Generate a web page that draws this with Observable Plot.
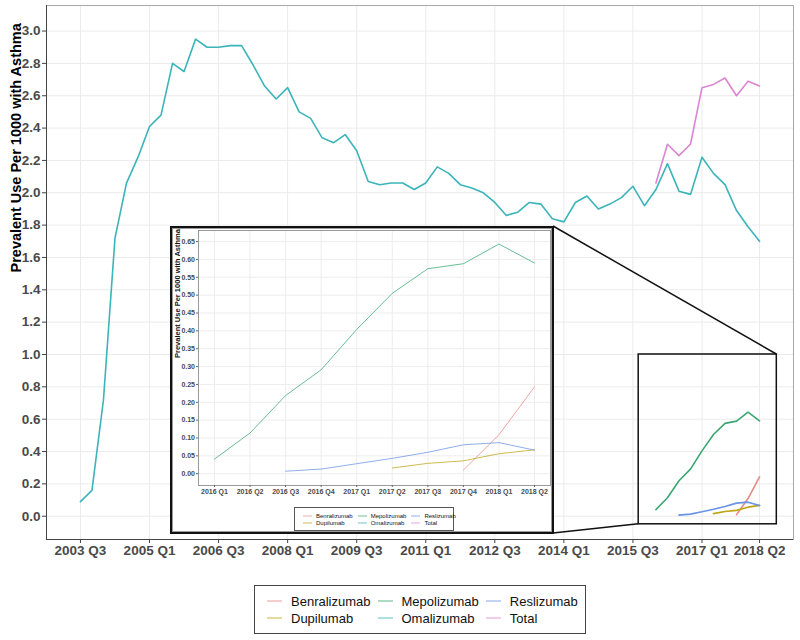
<!DOCTYPE html>
<html><head><meta charset="utf-8">
<script src="https://cdn.jsdelivr.net/npm/d3@7"></script>
<script src="https://cdn.jsdelivr.net/npm/@observablehq/plot@0.6"></script>
<style>
body{margin:0;background:#fff;font-family:"Liberation Sans",Arial,sans-serif;}
#wrap{position:relative;width:800px;height:640px;overflow:hidden;background:#fff;}
#wrap svg{display:block;}
.legend{position:absolute;box-sizing:border-box;background:#fff;display:grid;grid-auto-flow:column;grid-template-rows:auto auto;justify-content:start;align-content:center;}
.legend .it{display:flex;align-items:center;white-space:nowrap;color:#111;}
</style></head><body><div id="wrap"></div>
<script>
// ---------- data ----------
const quarters = ["2003 Q3","2003 Q4","2004 Q1","2004 Q2","2004 Q3","2004 Q4","2005 Q1","2005 Q2","2005 Q3","2005 Q4",
"2006 Q1","2006 Q2","2006 Q3","2006 Q4","2007 Q1","2007 Q2","2007 Q3","2007 Q4","2008 Q1","2008 Q2",
"2008 Q3","2008 Q4","2009 Q1","2009 Q2","2009 Q3","2009 Q4","2010 Q1","2010 Q2","2010 Q3","2010 Q4",
"2011 Q1","2011 Q2","2011 Q3","2011 Q4","2012 Q1","2012 Q2","2012 Q3","2012 Q4","2013 Q1","2013 Q2",
"2013 Q3","2013 Q4","2014 Q1","2014 Q2","2014 Q3","2014 Q4","2015 Q1","2015 Q2","2015 Q3","2015 Q4",
"2016 Q1","2016 Q2","2016 Q3","2016 Q4","2017 Q1","2017 Q2","2017 Q3","2017 Q4","2018 Q1","2018 Q2"];
const xTickLabels = ["2003 Q3","2005 Q1","2006 Q3","2008 Q1","2009 Q3","2011 Q1","2012 Q3","2014 Q1","2015 Q3","2017 Q1","2018 Q2"];
const yTicks = [0,0.2,0.4,0.6,0.8,1.0,1.2,1.4,1.6,1.8,2.0,2.2,2.4,2.6,2.8,3.0];

const omalizumab = [0.09,0.16,0.72,1.72,2.06,2.22,2.41,2.48,2.80,2.75,
2.95,2.90,2.90,2.91,2.91,2.79,2.66,2.58,2.65,2.50,
2.46,2.34,2.31,2.36,2.26,2.07,2.05,2.06,2.06,2.02,
2.06,2.16,2.12,2.05,2.03,2.00,1.94,1.86,1.88,1.94,
1.93,1.84,1.82,1.94,1.98,1.90,1.93,1.97,2.04,1.92,
2.02,2.18,2.01,1.99,2.22,2.12,2.05,1.89,1.79,1.70];

const insetQuarters = ["2016 Q1","2016 Q2","2016 Q3","2016 Q4","2017 Q1","2017 Q2","2017 Q3","2017 Q4","2018 Q1","2018 Q2"];
const total        = [2.06,2.30,2.23,2.30,2.65,2.67,2.71,2.60,2.69,2.66];
const mepolizumab  = [0.041,0.114,0.219,0.291,0.404,0.505,0.574,0.588,0.643,0.590];
const reslizumab   = [null,null,0.007,0.013,0.028,0.043,0.060,0.081,0.087,0.066];
const dupilumab    = [null,null,null,null,null,0.016,0.029,0.036,0.056,0.067];
const benralizumab = [null,null,null,null,null,null,null,0.010,0.109,0.243];
const insetYTicks = [0,0.05,0.1,0.15,0.2,0.25,0.3,0.35,0.4,0.45,0.5,0.55,0.6,0.65];

const seriesNames = ["Benralizumab","Dupilumab","Mepolizumab","Omalizumab","Reslizumab","Total"];
const seriesColors = ["#e68a82","#bfa415","#3aa772","#3bb4ba","#6a93e6","#da86d2"];
const yTitle = "Prevalent Use Per 1000 with Asthma";

// ---------- rows ----------
const rows = [];
omalizumab.forEach((v,i)=>rows.push({series:"Omalizumab", q:i, value:v}));
const insetSeries = {Benralizumab:benralizumab, Dupilumab:dupilumab, Mepolizumab:mepolizumab, Reslizumab:reslizumab, Total:total};
for (const [name, arr] of Object.entries(insetSeries)) {
  arr.forEach((v,j)=>{ if (v!=null) rows.push({series:name, q:quarters.indexOf(insetQuarters[j]), qi:j, value:v}); });
}
const insetRows = rows.filter(r => r.series!=="Omalizumab" && r.series!=="Total");

// zoom window highlighted in the main chart (quarter index / value units)
const firstQ = quarters.indexOf(insetQuarters[0]);
const lastQ = quarters.indexOf(insetQuarters[insetQuarters.length-1]);
const zoomBox = [{x1:firstQ-1.5, x2:lastQ+1.5, y1:-0.05, y2:1.0}];

const font = "'Liberation Sans', Arial, sans-serif";
const n = quarters.length;
const xpad = (n-1)*0.05;
const yDom = [-0.144, 3.158];

// ---------- main chart ----------
const main = Plot.plot({
  width:800, height:566, marginLeft:46, marginRight:7, marginTop:5, marginBottom:27,
  style:{fontFamily:font, fontSize:"13.5px", fontWeight:"bold", color:"#4a4a4a", background:"white"},
  x:{type:"linear", domain:[-xpad, n-1+xpad]},
  y:{domain:yDom},
  color:{domain:seriesNames, range:seriesColors},
  marks:[
    Plot.gridX(xTickLabels.map(q=>quarters.indexOf(q)), {stroke:"#ebebeb", strokeOpacity:1}),
    Plot.gridY(yTicks, {stroke:"#ebebeb", strokeOpacity:1}),
    Plot.frame({stroke:"#a8a8a8"}),
    Plot.ruleX([-xpad], {stroke:"#444"}),
    Plot.ruleY([yDom[0]], {stroke:"#444"}),
    Plot.axisX(xTickLabels.map(q=>quarters.indexOf(q)), {tickFormat:i=>quarters[i], tickSize:4, tickPadding:2, label:null, stroke:"#444"}),
    Plot.axisY(yTicks, {tickFormat:d=>d.toFixed(1), tickSize:4, tickPadding:2, label:null, stroke:"#444"}),
    Plot.line(rows, {x:"q", y:"value", z:"series", stroke:"series", strokeWidth:1.6}),
    Plot.rect(zoomBox, {x1:"x1", x2:"x2", y1:"y1", y2:"y2", fill:"none", stroke:"#111", strokeWidth:1.5}),
    Plot.text([yTitle], {text:d=>d, frameAnchor:"left", rotate:-90, dx:-30, fontSize:14.5, fontWeight:"bold", fill:"#000"})
  ]
});
const wrap = document.getElementById("wrap");
main.style.position="absolute"; main.style.left="0px"; main.style.top="0px";
wrap.appendChild(main);

// ---------- legends ----------
function makeLegend(left, top, width, height, fontSize, keyLen, keyGap, colGap, padLeft, rowGap, keyOpacity, border) {
  const lg = document.createElement("div");
  lg.className = "legend";
  Object.assign(lg.style, {left:left+"px", top:top+"px", width:width+"px", height:height+"px",
    border:border, paddingLeft:padLeft+"px", columnGap:colGap+"px", rowGap:rowGap+"px", fontSize:fontSize+"px"});
  seriesNames.forEach((name,i)=>{
    const it = document.createElement("div"); it.className="it";
    const ns="http://www.w3.org/2000/svg";
    const s=document.createElementNS(ns,"svg"); s.setAttribute("width",keyLen); s.setAttribute("height",4);
    s.style.marginRight=keyGap+"px";
    const l=document.createElementNS(ns,"line");
    l.setAttribute("x1",0);l.setAttribute("x2",keyLen);l.setAttribute("y1",2);l.setAttribute("y2",2);
    l.setAttribute("stroke",seriesColors[i]);l.setAttribute("stroke-width",1.2);l.setAttribute("stroke-opacity",keyOpacity);
    s.appendChild(l); it.appendChild(s);
    const t=document.createElement("span"); t.textContent=name; it.appendChild(t);
    lg.appendChild(it);
  });
  return lg;
}
wrap.appendChild(makeLegend(254, 585, 332, 49, 13, 15, 9, 7, 12, 2, 0.7, "1px solid #444"));

// ---------- connector lines ----------
const sx = main.scale("x"), sy = main.scale("y");
const insetBox = {left:170, top:226, width:384, height:308};
const bx1 = sx.apply(zoomBox[0].x1), bx2 = sx.apply(zoomBox[0].x2);
const by1 = sy.apply(zoomBox[0].y1), by2 = sy.apply(zoomBox[0].y2);
const ov = d3.create("svg").attr("width",800).attr("height",640)
  .style("position","absolute").style("left","0px").style("top","0px").style("pointer-events","none");
const ir = insetBox.left + insetBox.width - 1;
ov.append("line").attr("x1",ir).attr("y1",insetBox.top).attr("x2",bx2).attr("y2",by2).attr("stroke","#111").attr("stroke-width",1.5);
ov.append("line").attr("x1",ir).attr("y1",insetBox.top+insetBox.height-1).attr("x2",bx1).attr("y2",by1).attr("stroke","#111").attr("stroke-width",1.5);
wrap.appendChild(ov.node());

// ---------- inset ----------
const box = document.createElement("div");
Object.assign(box.style, {position:"absolute", left:insetBox.left+"px", top:insetBox.top+"px",
  width:insetBox.width+"px", height:insetBox.height+"px", boxSizing:"border-box",
  border:"2px solid #111", background:"#fff", boxShadow:"inset 0 0 0 1px #9a9a9a"});
const iw = insetBox.width-4, ih = insetBox.height-4;
const inset = Plot.plot({
  width:iw, height:ih, marginLeft:26, marginRight:2, marginTop:2, marginBottom:47,
  style:{fontFamily:font, fontSize:"7px", fontWeight:"bold", color:"#4a4a4a", background:"transparent"},
  x:{type:"linear", domain:[-0.45, insetQuarters.length-1+0.45]},
  y:{domain:[-0.033, 0.681]},
  color:{domain:seriesNames, range:seriesColors},
  marks:[
    Plot.gridX(insetQuarters.map((q,i)=>i), {stroke:"#ededed", strokeOpacity:1}),
    Plot.gridY(insetYTicks, {stroke:"#ededed", strokeOpacity:1}),
    Plot.frame({stroke:"#9a9a9a"}),
    Plot.axisX(insetQuarters.map((q,i)=>i), {tickFormat:i=>insetQuarters[i], tickSize:2, tickPadding:1.5, label:null, stroke:"#666"}),
    Plot.axisY(insetYTicks, {tickFormat:d=>d.toFixed(2), tickSize:2, tickPadding:1.5, label:null, stroke:"#666"}),
    Plot.line(insetRows, {x:"qi", y:"value", z:"series", stroke:"series", strokeWidth:1, strokeOpacity:0.75}),
    Plot.text([yTitle], {text:d=>d, frameAnchor:"left", rotate:-90, dx:-21, fontSize:7.5, fontWeight:"bold", fill:"#111"})
  ]
});
box.appendChild(inset);
box.appendChild(makeLegend(122, 279, 160, 24, 6, 9, 4, 5, 8, 1, 0.6, "1px solid #555"));
wrap.appendChild(box);
</script></body></html>
